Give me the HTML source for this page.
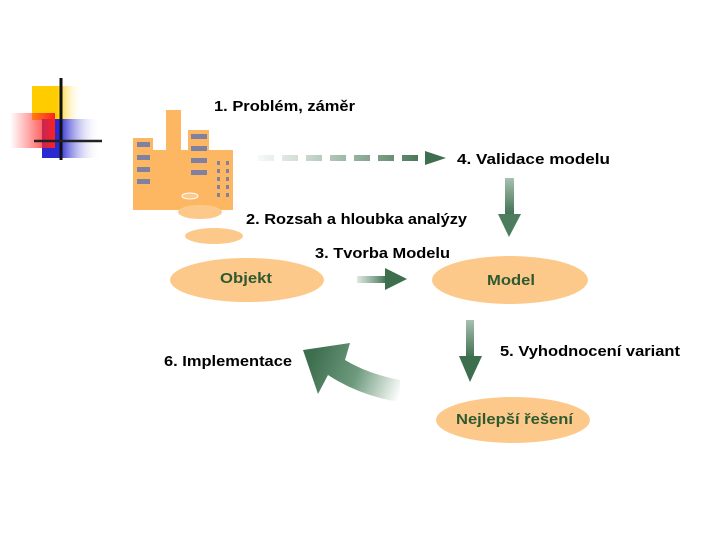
<!DOCTYPE html>
<html><head><meta charset="utf-8"><style>
body{margin:0;background:#fff}
svg{display:block}
text{font-family:"Liberation Sans",sans-serif;font-weight:bold;font-size:15px}
</style></head><body>
<svg width="720" height="540" viewBox="0 0 720 540">
<defs>
<linearGradient id="yl" x1="0" x2="1"><stop offset="0.5" stop-color="#ffcc00"/><stop offset="1" stop-color="#fff" stop-opacity="0"/></linearGradient>
<linearGradient id="rd" x1="0" x2="1"><stop offset="0" stop-color="#ff3333" stop-opacity="0"/><stop offset="1" stop-color="#ff2020"/></linearGradient>
<linearGradient id="bl" x1="0" x2="1"><stop offset="0.3" stop-color="#2a2ad0"/><stop offset="1" stop-color="#fff" stop-opacity="0"/></linearGradient>
<linearGradient id="gd" gradientUnits="userSpaceOnUse" x1="258" y1="0" x2="430" y2="0"><stop offset="0" stop-color="#5a8a6a" stop-opacity="0.05"/><stop offset="1" stop-color="#3d6e4e"/></linearGradient>
<linearGradient id="gh" x1="0" x2="1"><stop offset="0" stop-color="#5a8a6a" stop-opacity="0.2"/><stop offset="1" stop-color="#3d6e4e"/></linearGradient>
<linearGradient id="gv" x1="0" x2="0" y1="0" y2="1"><stop offset="0" stop-color="#a8c0b0"/><stop offset="1" stop-color="#3d6e4e"/></linearGradient>
<linearGradient id="gc" gradientUnits="userSpaceOnUse" x1="400" y1="395" x2="310" y2="360"><stop offset="0" stop-color="#fff"/><stop offset="0.5" stop-color="#6d9a7d"/><stop offset="1" stop-color="#3d6e4e"/></linearGradient>
</defs>
<rect x="32" y="86" width="50" height="34" fill="url(#yl)"/>
<rect x="42" y="119" width="58" height="39" fill="url(#bl)"/>
<rect x="10" y="113" width="45" height="35" fill="url(#rd)"/>
<line x1="61" y1="78" x2="61" y2="160" stroke="#111" stroke-width="3"/>
<line x1="34" y1="141" x2="102" y2="141" stroke="#222" stroke-width="2.5"/>
<g fill="#fdb763">
<rect x="133" y="138" width="20" height="72"/>
<rect x="153" y="150" width="80" height="60"/>
<rect x="166" y="110" width="15" height="40"/>
<rect x="188" y="130" width="21" height="30"/>
<rect x="213" y="157" width="20" height="53"/>
</g>
<g fill="#8080a0">
<rect x="137" y="142" width="13" height="5"/><rect x="137" y="155" width="13" height="5"/><rect x="137" y="167" width="13" height="5"/><rect x="137" y="179" width="13" height="5"/>
<rect x="191" y="134" width="16" height="5"/><rect x="191" y="146" width="16" height="5"/><rect x="191" y="158" width="16" height="5"/><rect x="191" y="170" width="16" height="5"/>
<rect x="217" y="161" width="3" height="4"/><rect x="226" y="161" width="3" height="4"/><rect x="217" y="169" width="3" height="4"/><rect x="226" y="169" width="3" height="4"/><rect x="217" y="177" width="3" height="4"/><rect x="226" y="177" width="3" height="4"/><rect x="217" y="185" width="3" height="4"/><rect x="226" y="185" width="3" height="4"/><rect x="217" y="193" width="3" height="4"/><rect x="226" y="193" width="3" height="4"/>
</g>
<ellipse cx="190" cy="196" rx="8" ry="3" fill="#fdc98a" stroke="#fff"/>
<ellipse cx="200" cy="212" rx="22" ry="7" fill="#fdc98a"/>
<ellipse cx="214" cy="236" rx="29" ry="8" fill="#fdc98a"/>
<ellipse cx="247" cy="280" rx="77" ry="22" fill="#fdc98a"/>
<ellipse cx="510" cy="280" rx="78" ry="24" fill="#fdc98a"/>
<ellipse cx="513" cy="420" rx="77" ry="23" fill="#fdc98a"/>
<text x="214" y="111" textLength="141" lengthAdjust="spacingAndGlyphs">1. Problém, záměr</text>
<text x="457" y="164" textLength="153" lengthAdjust="spacingAndGlyphs">4. Validace modelu</text>
<text x="246" y="224" textLength="221" lengthAdjust="spacingAndGlyphs">2. Rozsah a hloubka analýzy</text>
<text x="315" y="258" textLength="135" lengthAdjust="spacingAndGlyphs">3. Tvorba Modelu</text>
<text x="500" y="356" textLength="180" lengthAdjust="spacingAndGlyphs">5. Vyhodnocení variant</text>
<text x="164" y="366" textLength="128" lengthAdjust="spacingAndGlyphs">6. Implementace</text>
<g fill="#2f5a30">
<text x="220" y="283" textLength="52" lengthAdjust="spacingAndGlyphs">Objekt</text>
<text x="487" y="285" textLength="48" lengthAdjust="spacingAndGlyphs">Model</text>
<text x="456" y="424" textLength="117" lengthAdjust="spacingAndGlyphs">Nejlepší řešení</text>
</g>
<line x1="258" y1="158" x2="428" y2="158" stroke="url(#gd)" stroke-width="6" stroke-dasharray="16 8"/>
<polygon points="425,151 446,158 425,165" fill="#3d6e4e"/>
<rect x="357" y="276" width="30" height="7" fill="url(#gh)"/>
<polygon points="385,268 407,279 385,290" fill="#3d6e4e"/>
<rect x="505" y="178" width="9" height="38" fill="url(#gv)"/>
<polygon points="498,214 521,214 509,237" fill="#4d7d5d"/>
<rect x="466" y="320" width="8" height="38" fill="url(#gv)"/>
<polygon points="459,356 482,356 470,382" fill="#3d6e4e"/>
<path d="M400,380 Q368,374 345,360 L350,343 L303,350 L318,394 L328,375 Q360,396 400,402 Z" fill="url(#gc)"/>
</svg>
</body></html>
